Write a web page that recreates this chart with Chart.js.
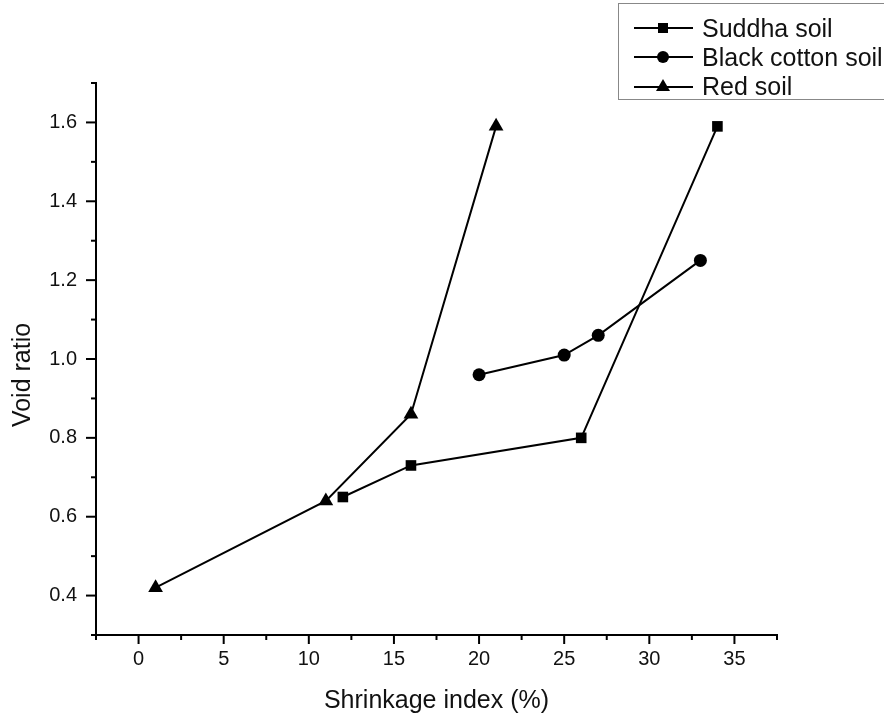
<!DOCTYPE html>
<html>
<head>
<meta charset="utf-8">
<script src="https://cdn.jsdelivr.net/npm/chart.js@4.4.1/dist/chart.umd.min.js"></script>
<style>
  html, body { margin: 0; padding: 0; background: #fff; overflow: hidden; }
  #wrap { position: relative; width: 884px; height: 717px; }
  #legend {
    position: absolute; left: 618px; top: 3px; width: 300px; height: 97px;
    border: 1.5px solid #888; box-sizing: border-box;
    font-family: "Liberation Sans", Arial, sans-serif; font-size: 25px; color: #111;
  }
  .row { position: absolute; left: 15px; height: 30px; display: flex; align-items: center; white-space: nowrap; }
  .row svg { margin-right: 8px; }
</style>
</head>
<body>
<div id="wrap">
  <canvas id="soilChart"></canvas>
  <div id="legend">
    <div class="row" style="top:9px">
      <svg width="60" height="20"><line x1="0" y1="10" x2="59" y2="10" stroke="#000" stroke-width="2"/><rect x="24" y="5" width="10" height="10" fill="#000"/></svg>Suddha soil
    </div>
    <div class="row" style="top:38px">
      <svg width="60" height="20"><line x1="0" y1="10" x2="59" y2="10" stroke="#000" stroke-width="2"/><circle cx="29" cy="10" r="6" fill="#000"/></svg>Black cotton soil
    </div>
    <div class="row" style="top:67px">
      <svg width="60" height="20"><line x1="0" y1="11" x2="59" y2="11" stroke="#000" stroke-width="2"/><polygon points="29,3 36,15 22,15" fill="#000"/></svg>Red soil
    </div>
  </div>
</div>
<script>
// Shrinkage index (%) vs void ratio
const suddhaX = [12, 16, 26, 34];
const suddhaY = [0.65, 0.73, 0.80, 1.59];

const blackX = [20, 25, 27, 33];
const blackY = [0.96, 1.01, 1.06, 1.25];

const redX = [1, 11, 16, 21];
const redY = [0.42, 0.64, 0.86, 1.59];

const xMajorLabels = [0, 5, 10, 15, 20, 25, 30, 35];
const yMajorLabels = ["0.4", "0.6", "0.8", "1.0", "1.2", "1.4", "1.6"];

const FONT = '"Liberation Sans", Arial, sans-serif';

function points(xs, ys) {
  return xs.map((x, i) => ({ x: x, y: ys[i] }));
}

function series(label, xs, ys, style, radius) {
  return {
    label: label,
    data: points(xs, ys),
    showLine: true,
    borderColor: "#000",
    borderWidth: 2,
    backgroundColor: "#000",
    pointBackgroundColor: "#000",
    pointBorderWidth: 0,
    pointStyle: style,
    pointRadius: radius,
    pointHoverRadius: radius,
    tension: 0,
  };
}

// tick marks: long for labelled ticks, short for the rest
const tickMarks = {
  id: "tickMarks",
  afterDraw(chart) {
    const ctx = chart.ctx;
    const area = chart.chartArea;
    const xs = chart.scales.x;
    const ys = chart.scales.y;
    ctx.save();
    ctx.strokeStyle = "#000";
    ctx.lineWidth = 2;
    xs.ticks.forEach(t => {
      const px = xs.getPixelForValue(t.value);
      const major = xMajorLabels.some(v => Math.abs(v - t.value) < 1e-6);
      ctx.beginPath();
      ctx.moveTo(px, area.bottom);
      ctx.lineTo(px, area.bottom + (major ? 9 : 5));
      ctx.stroke();
    });
    ys.ticks.forEach(t => {
      const py = ys.getPixelForValue(t.value);
      const major = yMajorLabels.includes(t.value.toFixed(1));
      ctx.beginPath();
      ctx.moveTo(area.left, py);
      ctx.lineTo(area.left - (major ? 10 : 5), py);
      ctx.stroke();
    });

    // axis titles
    ctx.fillStyle = "#111";
    ctx.font = "25px " + FONT;
    ctx.textAlign = "center";
    ctx.textBaseline = "alphabetic";
    ctx.fillText("Shrinkage index (%)", (area.left + area.right) / 2, area.bottom + 73);
    ctx.translate(30, (area.top + area.bottom) / 2 + 16);
    ctx.rotate(-Math.PI / 2);
    ctx.fillText("Void ratio", 0, 0);
    ctx.restore();
  },
};

document.addEventListener("DOMContentLoaded", function () {
  const ctx = document.getElementById("soilChart");
  new Chart(ctx, {
    type: "scatter",
    data: {
      datasets: [
        series("Suddha soil", suddhaX, suddhaY, "rect", 7.5),
        series("Black cotton soil", blackX, blackY, "circle", 6.5),
        series("Red soil", redX, redY, "triangle", 8.5),
      ],
    },
    options: {
      responsive: true,
      maintainAspectRatio: false,
      animation: false,
      layout: {
        padding: { left: 0, top: 83, right: 107, bottom: 0 },
      },
      plugins: {
        legend: { display: false },
        tooltip: { enabled: false },
      },
      scales: {
        x: {
          type: "linear",
          min: -2.5,
          max: 37.5,
          grid: { display: false, drawTicks: false },
          border: { display: true, color: "#000", width: 2 },
          ticks: {
            stepSize: 2.5,
            autoSkip: false,
            maxRotation: 0,
            padding: 12,
            color: "#111",
            font: { family: FONT, size: 20 },
            callback: v => (xMajorLabels.some(m => Math.abs(m - v) < 1e-6) ? String(v) : ""),
          },
          afterFit(scale) {
            scale.height = 82;
            scale.paddingLeft = 0;
            scale.paddingRight = 0;
          },
        },
        y: {
          type: "linear",
          min: 0.3,
          max: 1.7,
          grid: { display: false, drawTicks: false },
          border: { display: true, color: "#000", width: 2 },
          ticks: {
            stepSize: 0.1,
            autoSkip: false,
            padding: 19,
            color: "#111",
            font: { family: FONT, size: 20 },
            callback: v => (yMajorLabels.includes(v.toFixed(1)) ? v.toFixed(1) : ""),
          },
          afterFit(scale) {
            scale.width = 96;
            scale.paddingTop = 0;
            scale.paddingBottom = 0;
          },
        },
      },
    },
    plugins: [tickMarks],
  });
});
</script>
</body>
</html>
